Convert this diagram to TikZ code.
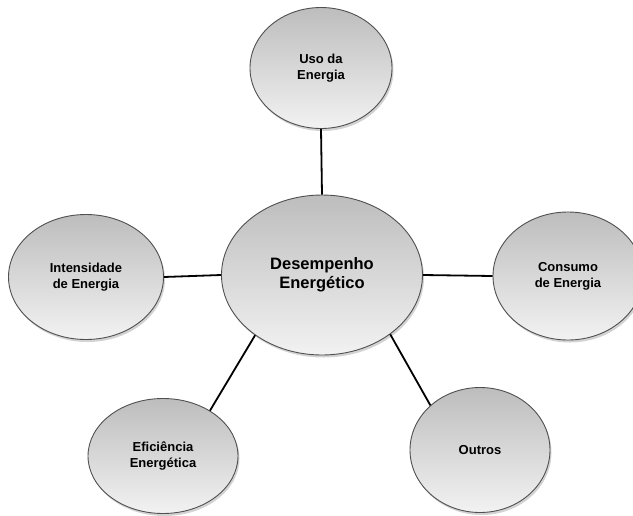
\documentclass[tikz,border=0pt]{standalone}
\usepackage{fontspec}
\setmainfont{Liberation Sans}
\usetikzlibrary{shapes.geometric,shadows}
\definecolor{bubbletop}{HTML}{BDBDBD}
\definecolor{bubblebot}{HTML}{F2F2F2}
\definecolor{bubbleedge}{HTML}{505050}
\begin{document}
\begin{tikzpicture}[x=1pt,y=-1pt,
  bubble/.style={ellipse, draw=bubbleedge, line width=0.9pt,
    top color=bubbletop, bottom color=bubblebot,
    drop shadow={opacity=0.35, shadow xshift=1.5pt, shadow yshift=-2.5pt},
    align=center, font=\bfseries\fontsize{13}{16}\selectfont, inner sep=0pt},
  link/.style={draw=black, line width=1.8pt}]
\useasboundingbox (0,0) rectangle (633,515);
% outer bubbles
\node[bubble, minimum width=142pt, minimum height=121pt] (uso) at (321,68) {Uso da\\Energia};
\node[bubble, minimum width=155pt, minimum height=125pt] (int) at (86,277) {Intensidade\\de Energia};
\node[bubble, minimum width=150pt, minimum height=128pt] (con) at (568,276) {Consumo\\de Energia};
\node[bubble, minimum width=150pt, minimum height=115pt] (efi) at (163,456) {Eficiência\\Energética};
\node[bubble, minimum width=140pt, minimum height=125pt] (out) at (480,450) {Outros};
% central bubble
\node[bubble, minimum width=201pt, minimum height=160pt,
  font=\bfseries\fontsize{16.5}{19}\selectfont] (des) at (322,275) {Desempenho\\Energético};
% connectors
\draw[link] (uso.south) -- (des.north);
\draw[link] (int.east) -- (des.west);
\draw[link] (con.west) -- (des.east);
\draw[link] (efi.44) -- (des.222);
\draw[link] (out.138) -- (des.-41);
\end{tikzpicture}
\end{document}
